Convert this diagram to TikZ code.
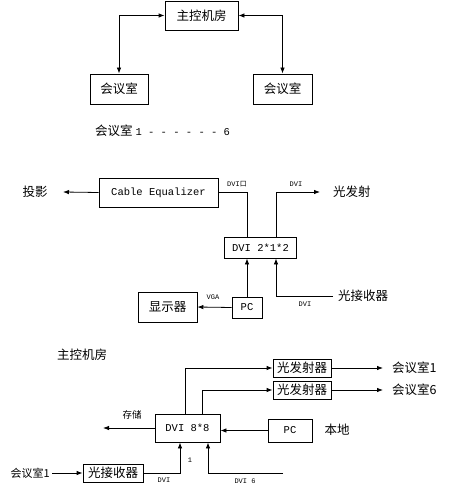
\documentclass[tikz,border=0pt]{standalone}
\usepackage{fontspec}
\setmainfont{Noto Sans CJK SC}
\setmonofont{Liberation Mono}
\usetikzlibrary{arrows.meta,positioning}
\begin{document}
\begin{tikzpicture}[x=1pt,y=-1pt,
  box/.style={draw,line width=0.8pt,inner sep=0pt,font=\fontsize{12.5}{13}\selectfont},
  mono/.style={font=\ttfamily\fontsize{10.5}{11}\selectfont},
  lab/.style={inner sep=0pt,font=\ttfamily\fontsize{7}{7}\selectfont},
  txt/.style={inner sep=0pt,font=\fontsize{12.5}{13}\selectfont},
  wire/.style={line width=0.8pt},
  arr/.style={wire,-{Latex[length=6pt,width=4.5pt]}},
  dbl/.style={wire,{Latex[length=6pt,width=4.5pt]}-{Latex[length=6pt,width=4.5pt]}}]
\useasboundingbox (0,0) rectangle (450,487);
% top: control room and meeting rooms
\node[box,minimum width=73pt,minimum height=29pt] (ctrl) at (201.5,15.5) {主控机房};
\node[box,minimum width=58pt,minimum height=30pt] (roomA) at (119,89) {会议室};
\node[box,minimum width=59pt,minimum height=30pt] (roomB) at (282.5,89) {会议室};
\draw[dbl] (ctrl.west) -| (roomA.north);
\draw[dbl] (ctrl.east) -| (roomB.north);
\node[txt,anchor=west] (range) at (95,131) {会议室 {\ttfamily\fontsize{10.5}{11}\selectfont 1 - - - - - - 6}};
% middle: one meeting room
\node[box,mono,minimum width=119pt,minimum height=29pt] (ceq) at (158.5,192.5) {Cable Equalizer};
\node[box,mono,minimum width=72pt,minimum height=21pt] (dvi2) at (260.5,247.5) {DVI 2*1*2};
\node[box,mono,minimum width=30pt,minimum height=21pt] (pc1) at (247,307.5) {PC};
\node[box,minimum width=59pt,minimum height=30pt] (disp) at (167.5,307) {显示器};
\node[txt] (proj) at (35,192) {投影};
\node[txt,anchor=west] (tx) at (333,192) {光发射};
\node[txt,anchor=west] (rx) at (338,296) {光接收器};
\coordinate (projin) at (63,192);
\coordinate (txin) at (320,192);
\draw[arr] (ceq.west) -- (projin);
\draw[wire] (ceq.east) -| ([xshift=-13.5pt]dvi2.north);
\draw[arr] ([xshift=15.5pt]dvi2.north) |- (txin);
\draw[arr] (pc1.north) -- (pc1.north |- dvi2.south);
\draw[arr] (pc1.west) -- (disp.east);
\draw[arr] ([xshift=-5pt]rx.west) -| ([xshift=15.5pt]dvi2.south);
\node[lab] (l1) at (237,184) {DVI{\rmfamily\fontsize{7}{7}\selectfont 口}};
\node[lab] (l2) at (296,184) {DVI};
\node[lab] (l3) at (213,297) {VGA};
\node[lab] (l4) at (305,304) {DVI};
% bottom: control room
\node[txt] (main) at (82,355) {主控机房};
\node[box,minimum width=58pt,minimum height=18pt] (tx1) at (302,368) {光发射器};
\node[box,minimum width=58pt,minimum height=18pt] (tx2) at (302,390) {光发射器};
\node[txt,anchor=west] (room1) at (392,368) {会议室1};
\node[txt,anchor=west] (room6) at (392,390) {会议室6};
\coordinate (r1in) at (383,368);
\coordinate (r6in) at (383,390);
\node[box,mono,minimum width=65pt,minimum height=28pt] (dvi8) at (187.5,428) {DVI 8*8};
\node[box,mono,minimum width=44pt,minimum height=23pt] (pc2) at (290,430.5) {PC};
\node[txt,font=\fontsize{9.5}{10}\selectfont] (store) at (132,415) {存储};
\coordinate (storein) at (103,428);
\node[txt] (local) at (337,430) {本地};
\node[box,minimum width=60pt,minimum height=18pt] (rx2) at (113,473) {光接收器};
\node[txt,font=\fontsize{11}{12}\selectfont,anchor=east] (rxroom) at (50,473) {会议室1};
\coordinate (far6) at (283,473);
\draw[arr] ([xshift=-2.5pt]dvi8.north) |- (tx1.west);
\draw[arr] ([xshift=14.5pt]dvi8.north) |- (tx2.west);
\draw[arr] (tx1.east) -- (r1in);
\draw[arr] (tx2.east) -- (r6in);
\draw[arr] (dvi8.west) -- (storein);
\draw[arr] (pc2.west) -- (pc2.west -| dvi8.east);
\draw[arr] ([xshift=2pt]rxroom.east) -- (rx2.west);
\draw[arr] (rx2.east) -| ([xshift=-7.5pt]dvi8.south);
\draw[arr] (far6) -| ([xshift=20.5pt]dvi8.south);
\node[lab] (l5) at (190,460) {1};
\node[lab] (l6) at (164,480) {DVI};
\node[lab] (l7) at (245,481) {DVI 6};
\end{tikzpicture}
\end{document}
